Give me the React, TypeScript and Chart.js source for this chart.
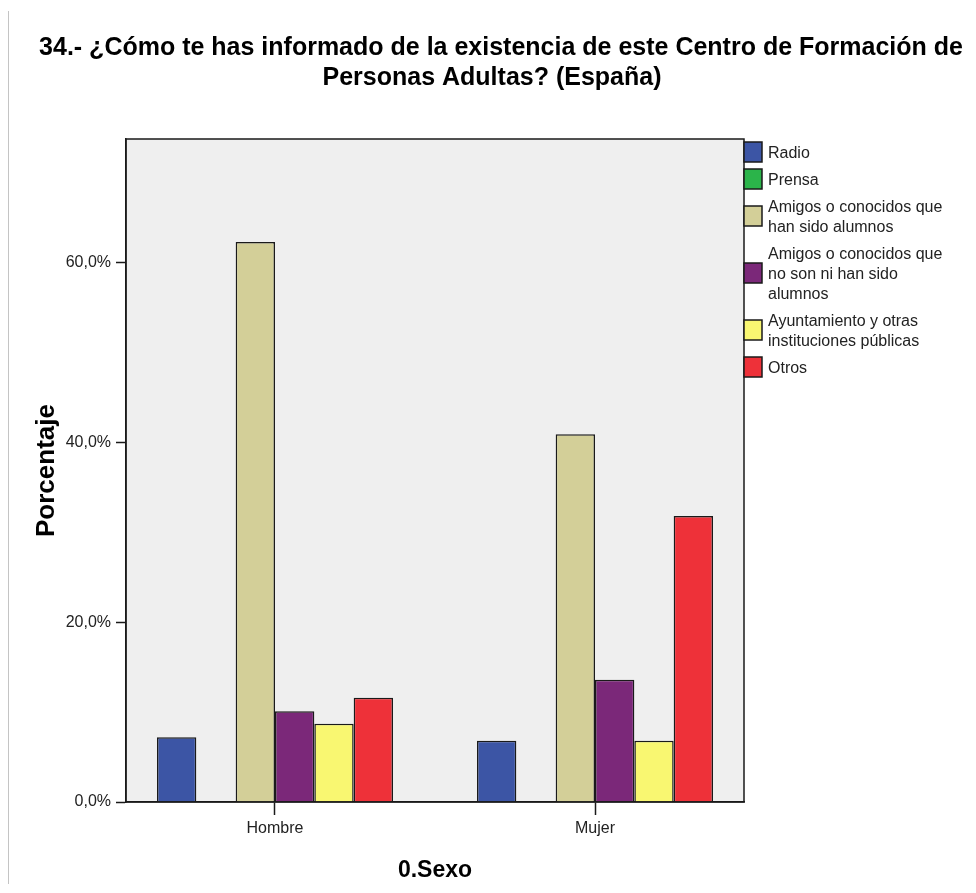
import React, { useEffect, useRef } from 'react';
import { Chart, registerables } from 'chart.js';

Chart.register(...registerables);

// ---- Data ----
const categories = ['Hombre', 'Mujer'];
const seriesNames = [
  'Radio',
  'Prensa',
  'Amigos o conocidos que\nhan sido alumnos',
  'Amigos o conocidos que\nno son ni han sido\nalumnos',
  'Ayuntamiento y otras\ninstituciones públicas',
  'Otros',
];
const radio = [7.2, 6.8];
const prensa = [0, 0];
const amigosAlumnos = [62.3, 40.9];
const amigosNoAlumnos = [10.1, 13.6];
const ayuntamiento = [8.7, 6.8];
const otros = [11.6, 31.8];
const seriesValues = [radio, prensa, amigosAlumnos, amigosNoAlumnos, ayuntamiento, otros];
const seriesColors = ['#3c55a5', '#2bb44a', '#d3cf98', '#7b2879', '#f9f771', '#ee3139'];
const yTickValues = [0, 20, 40, 60];
const yMax = 73.75;
const titleLines = [
  '34.- ¿Cómo te has informado de la existencia de este Centro de Formación de',
  'Personas Adultas? (España)',
];
const yAxisTitle = 'Porcentaje';
const xAxisTitle = '0.Sexo';

const FONT = 'Arial, "Liberation Sans", sans-serif';
const INK = '#1a1a1a';

const decorPlugin = {
  id: 'decor',
  beforeDraw(chart: any) {
    const { ctx, chartArea: a } = chart;
    ctx.save();
    ctx.fillStyle = '#efefef';
    ctx.fillRect(a.left, a.top, a.right - a.left, a.bottom - a.top);
    ctx.restore();
  },
  afterDraw(chart: any) {
    const { ctx, chartArea: a } = chart;
    ctx.save();
    // frame
    ctx.strokeStyle = INK;
    ctx.lineWidth = 1.5;
    ctx.strokeRect(a.left, a.top, a.right - a.left, a.bottom - a.top);

    // title
    ctx.fillStyle = '#000';
    ctx.font = `bold 25px ${FONT}`;
    ctx.textAlign = 'center';
    ctx.textBaseline = 'middle';
    const titleX = [493, 484];
    titleLines.forEach((line, i) => ctx.fillText(line, titleX[i], 40 + 30 * i));

    // legend
    ctx.font = `16px ${FONT}`;
    ctx.textAlign = 'left';
    let y = a.top + 3;
    chart.data.datasets.forEach((ds: any) => {
      const lines = String(ds.label).split('\n');
      const h = lines.length * 20;
      const boxTop = y + h / 2 - 10;
      ctx.fillStyle = ds.backgroundColor;
      ctx.fillRect(a.right, boxTop, 18, 20);
      ctx.strokeStyle = INK;
      ctx.lineWidth = 1.5;
      ctx.strokeRect(a.right, boxTop, 18, 20);
      ctx.fillStyle = '#222';
      lines.forEach((l, j) => ctx.fillText(l, a.right + 24, y + 12 + 20 * j));
      y += h + 7;
    });
    ctx.restore();
  },
};

export default function App() {
  const canvasRef = useRef<HTMLCanvasElement | null>(null);

  useEffect(() => {
    if (!canvasRef.current) return;
    Chart.defaults.font.family = FONT;
    const chart = new Chart(canvasRef.current, {
      type: 'bar',
      data: {
        datasets: seriesNames.map((name, s) => ({
          label: name,
          data: categories.map((_, i) => ({ x: i, y: seriesValues[s][i] })),
          backgroundColor: seriesColors[s],
          borderColor: INK,
          borderWidth: 1.5,
          categoryPercentage: 0.7375,
          barPercentage: 1,
        })),
      },
      options: {
        animation: false,
        responsive: true,
        maintainAspectRatio: false,
        layout: { padding: { left: 0, top: 131, right: 224, bottom: 0 } },
        plugins: {
          legend: { display: false },
          title: { display: false },
          tooltip: { enabled: false },
        },
        scales: {
          x: {
            type: 'linear',
            offset: false,
            min: -0.4656,
            max: 1.4656,
            afterBuildTicks: (scale: any) => {
              scale.ticks = categories.map((_, i) => ({ value: i }));
            },
            afterFit: (scale: any) => {
              scale.height = 82;
            },
            grid: {
              offset: false,
              drawOnChartArea: false,
              drawTicks: true,
              tickLength: 13,
              tickColor: INK,
              tickWidth: 1.5,
              color: INK,
            },
            border: { display: true, color: INK, width: 1.5 },
            ticks: {
              autoSkip: false,
              maxRotation: 0,
              padding: 4,
              color: '#222',
              font: { size: 16, family: FONT },
              callback: (v: any) => categories[Math.round(Number(v))] ?? '',
            },
            title: {
              display: true,
              text: xAxisTitle,
              color: '#000',
              font: { size: 23, weight: 'bold', family: FONT },
              padding: { top: 5, bottom: 0 },
            },
          },
          y: {
            type: 'linear',
            min: 0,
            max: yMax,
            afterBuildTicks: (scale: any) => {
              scale.ticks = yTickValues.map((v) => ({ value: v }));
            },
            afterFit: (scale: any) => {
              scale.width = 118;
            },
            grid: {
              drawOnChartArea: false,
              drawTicks: true,
              tickLength: 10,
              tickColor: INK,
              tickWidth: 1.5,
              color: INK,
            },
            border: { display: true, color: INK, width: 1.5 },
            ticks: {
              padding: 5,
              color: '#222',
              font: { size: 16, family: FONT },
              callback: (v: any) => Number(v).toFixed(1).replace('.', ',') + '%',
            },
            title: {
              display: true,
              text: yAxisTitle,
              color: '#000',
              font: { size: 26, weight: 'bold', family: FONT },
              padding: { top: 23, bottom: 0 },
            },
          },
        },
      } as any,
      plugins: [decorPlugin],
    });
    return () => chart.destroy();
  }, []);

  return (
    <div style={{ position: 'relative', width: '960px', height: '876px' }}>
      <div
        style={{
          position: 'absolute',
          left: 0,
          top: 3,
          width: 1,
          height: 873,
          background: '#c4c4c4',
        }}
      />
      <canvas ref={canvasRef} />
    </div>
  );
}
